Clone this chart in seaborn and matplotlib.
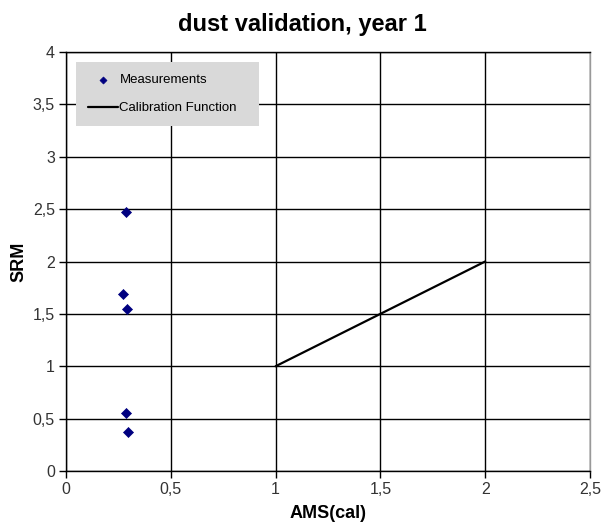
import matplotlib
matplotlib.use("Agg")
import matplotlib.pyplot as plt
import seaborn as sns
import pandas as pd
from matplotlib.ticker import FuncFormatter, MultipleLocator

# data
meas_x = [0.284, 0.273, 0.293, 0.288, 0.297, 0.296]
meas_y = [2.47, 1.69, 1.55, 0.55, 0.37, 3.38]
calib_x = [1.0, 2.0]
calib_y = [1.0, 2.0]

sns.set_style("white")
plt.rcParams['font.family'] = ['Liberation Sans', 'DejaVu Sans']
plt.rcParams['text.color'] = 'black'
plt.rcParams['axes.labelcolor'] = 'black'

fig = plt.figure(figsize=(6.04, 5.29), dpi=100)
ax = fig.add_axes([66/604, 1-471/529, (590-66)/604, (471-52)/529])

df_m = pd.DataFrame({"x": meas_x, "y": meas_y})
df_c = pd.DataFrame({"x": calib_x, "y": calib_y})

sns.scatterplot(data=df_m, x="x", y="y", ax=ax, marker="D", s=26, color="#000080",
                edgecolor="#000080", linewidth=0.5, label="Measurements", zorder=3)
sns.lineplot(data=df_c, x="x", y="y", ax=ax, color="black", linewidth=1.6,
             label="Calibration Function", zorder=3)

ax.set_xlim(0, 2.5)
ax.set_ylim(0, 4)
ax.xaxis.set_major_locator(MultipleLocator(0.5))
ax.yaxis.set_major_locator(MultipleLocator(0.5))
fmt = FuncFormatter(lambda v, p: ("%g" % v).replace(".", ","))
ax.xaxis.set_major_formatter(fmt)
ax.yaxis.set_major_formatter(fmt)
ax.grid(True, color="black", linewidth=1.0)
ax.set_axisbelow(True)
for s in ax.spines.values():
    s.set_color("black")
    s.set_linewidth(1.0)
ax.spines['right'].set_color("#999999")
ax.tick_params(axis="both", direction="out", length=5, width=1, color="black",
               labelsize=11.5, labelcolor="#333333", pad=3, left=True, bottom=True)

ax.set_xlabel("AMS(cal)", fontsize=13, fontweight="bold", labelpad=6, color="black")
ax.set_ylabel("SRM", fontsize=13, fontweight="bold", labelpad=4, color="black")
fig.suptitle("dust validation, year 1", fontsize=17, fontweight="bold", y=0.975, color="black")

leg = ax.legend(loc="upper left", bbox_to_anchor=(0.019, 0.976 - 0.146, 0.349, 0.146),
                mode="expand", frameon=True, fancybox=False, fontsize=9.5,
                borderpad=0.9, labelspacing=1.2, handlelength=2.3, handletextpad=0.1,
                markerscale=0.7, borderaxespad=0)
leg.get_frame().set_facecolor("#d9d9d9")
leg.get_frame().set_edgecolor("none")
leg.get_frame().set_alpha(1)
leg.set_zorder(5)
for t in leg.get_texts():
    t.set_color("black")

fig.savefig("out.png", dpi=100)
